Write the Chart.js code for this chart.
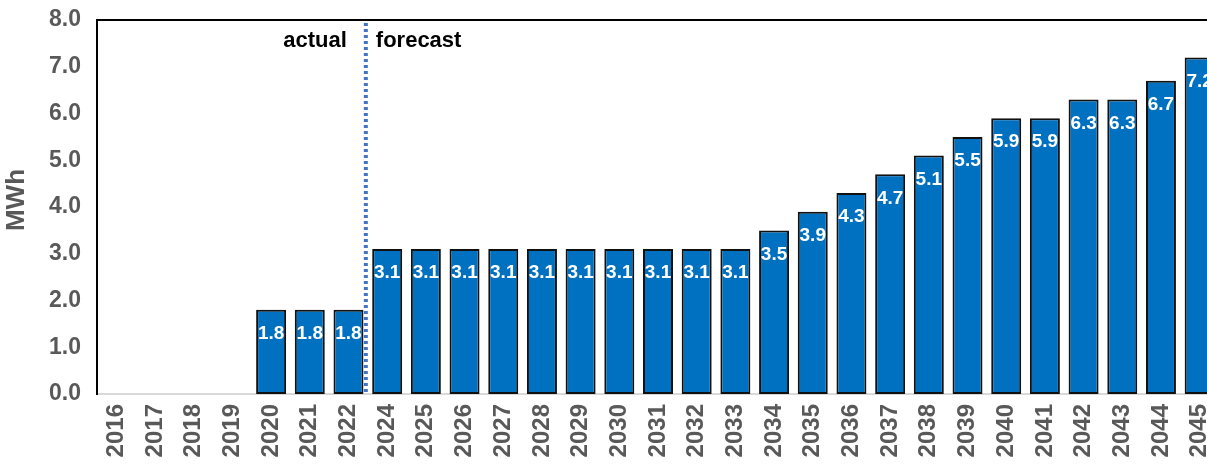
<!DOCTYPE html>
<html>
<head>
<meta charset="utf-8">
<script src="https://cdn.jsdelivr.net/npm/chart.js@4"></script>
<style>
  html, body { margin: 0; padding: 0; background: #fff; overflow: hidden; }
  #wrap { position: relative; width: 1224px; height: 464px; }
</style>
</head>
<body>
<div id="wrap"><canvas id="c"></canvas></div>
<script>
const years = ['2016','2017','2018','2019','2020','2021','2022','2024','2025','2026','2027','2028','2029','2030','2031','2032','2033','2034','2035','2036','2037','2038','2039','2040','2041','2042','2043','2044','2045'];
const mwh = [null,null,null,null,1.8,1.8,1.8,3.1,3.1,3.1,3.1,3.1,3.1,3.1,3.1,3.1,3.1,3.5,3.9,4.3,4.7,5.1,5.5,5.9,5.9,6.3,6.3,6.7,7.2];
const yTicks = [0,1,2,3,4,5,6,7,8];
const dividerAfter = '2022';
const leftNote = 'actual';
const rightNote = 'forecast';
const yTitle = 'MWh';

const FONT = '"Liberation Sans", Arial, sans-serif';
const GRAY = '#595959';

const overlay = {
  id: 'overlay',
  afterDatasetsDraw(chart) {
    const {ctx, chartArea: a, scales: {x}} = chart;
    ctx.save();
    ctx.strokeStyle = '#000';
    ctx.lineWidth = 2;
    ctx.beginPath();
    ctx.moveTo(a.left - 1, a.top);
    ctx.lineTo(a.right, a.top);
    ctx.stroke();

    const meta = chart.getDatasetMeta(0);
    ctx.fillStyle = '#fff';
    ctx.font = 'bold 19px ' + FONT;
    ctx.textAlign = 'center';
    ctx.textBaseline = 'middle';
    meta.data.forEach((bar, i) => {
      const v = mwh[i];
      if (v == null) return;
      ctx.fillText(v.toFixed(1), bar.x, bar.y + 24);
    });

    const idx = years.indexOf(dividerAfter);
    const lx = (x.getPixelForValue(idx) + x.getPixelForValue(idx + 1)) / 2 - 2;
    ctx.strokeStyle = '#4472C4';
    ctx.lineWidth = 4;
    ctx.setLineDash([3, 3]);
    ctx.beginPath();
    ctx.moveTo(lx, a.top + 3);
    ctx.lineTo(lx, a.bottom);
    ctx.stroke();
    ctx.setLineDash([]);

    ctx.fillStyle = '#000';
    ctx.font = 'bold 22px ' + FONT;
    ctx.textBaseline = 'alphabetic';
    ctx.textAlign = 'right';
    ctx.fillText(leftNote, lx - 19, a.top + 27);
    ctx.textAlign = 'left';
    ctx.fillText(rightNote, lx + 10, a.top + 27);

    // y-axis title
    ctx.translate(17, 200);
    ctx.rotate(-Math.PI / 2);
    ctx.fillStyle = GRAY;
    ctx.font = 'bold 26px ' + FONT;
    ctx.textAlign = 'center';
    ctx.textBaseline = 'middle';
    ctx.fillText(yTitle, 0, 0);
    ctx.restore();
  }
};

new Chart(document.getElementById('c'), {
  type: 'bar',
  data: {
    labels: years,
    datasets: [{
      data: mwh,
      backgroundColor: '#0070C0',
      borderColor: '#111',
      borderWidth: 2,
      borderSkipped: false,
      barPercentage: 0.775,
      categoryPercentage: 1.0
    }]
  },
  options: {
    responsive: true,
    maintainAspectRatio: false,
    animation: false,
    layout: { padding: { top: 20, right: 5, left: 0, bottom: 0 } },
    plugins: { legend: { display: false }, tooltip: { enabled: false } },
    scales: {
      x: {
        grid: { display: false, drawTicks: false },
        border: { display: true, color: '#d9d9d9', width: 2 },
        ticks: {
          minRotation: 90, maxRotation: 90, autoSkip: false,
          padding: 10, color: GRAY,
          font: { family: FONT, size: 24, weight: 'bold' }
        },
        afterFit(s) { s.height = 70; s.paddingLeft = 0; s.paddingRight = 0; }
      },
      y: {
        min: 0, max: 8,
        afterBuildTicks(s) { s.ticks = yTicks.map(v => ({ value: v })); },
        grid: { display: false, drawTicks: false },
        border: { display: true, color: '#000', width: 2 },
        ticks: {
          padding: 16, color: GRAY,
          font: { family: FONT, size: 23, weight: 'bold' },
          callback: v => Number(v).toFixed(1)
        },
        title: { display: false },
        afterFit(s) { s.width = 97; s.paddingTop = 0; s.paddingBottom = 0; }
      }
    }
  },
  plugins: [overlay]
});
</script>
</body>
</html>
